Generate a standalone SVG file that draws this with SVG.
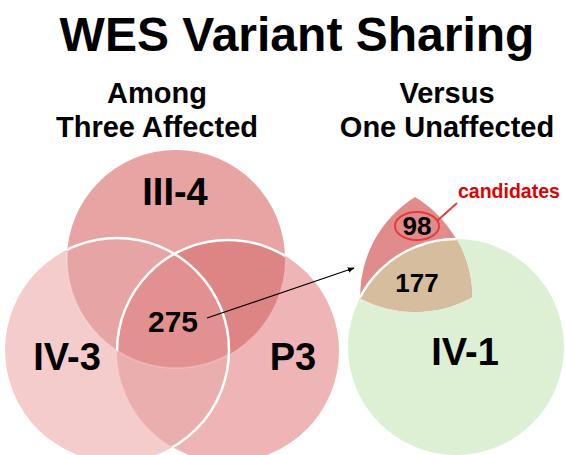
<svg xmlns="http://www.w3.org/2000/svg" width="565" height="455" viewBox="0 0 565 455">
<style>
text{font-family:"Liberation Sans",Arial,sans-serif;font-weight:bold;fill:#000;text-anchor:middle}
.title{font-size:48px}
.sub{font-size:29px}
.big{font-size:38px}
.num{font-size:30px}
.num2{font-size:26px}
.cand{font-size:19.5px;fill:#E00000;text-anchor:start}
.ws{fill:none;stroke:#fff;stroke-width:2.5}
</style>
<defs>
<clipPath id="cA"><circle cx="176" cy="259" r="109"/></clipPath>
<clipPath id="cB"><circle cx="117" cy="350" r="112"/></clipPath>
<clipPath id="cAC"><circle cx="176" cy="259" r="109"/><circle cx="228" cy="351" r="111"/></clipPath>
<clipPath id="cRed"><path d="M415,197 A118,118 0 0,0 360,298 A118,118 0 0,0 472,297 A118,118 0 0,0 415,197 Z"/></clipPath>
<clipPath id="cGreen"><circle cx="456" cy="347" r="108"/></clipPath>
<marker id="ah" viewBox="0 0 10 10" refX="9" refY="5" markerWidth="7" markerHeight="7" orient="auto" markerUnits="userSpaceOnUse"><path d="M0,1 L10,5 L0,9 Z" fill="#000"/></marker>
</defs>

<text class="title" x="297" y="51">WES Variant Sharing</text>
<text class="sub" x="157" y="103">Among</text>
<text class="sub" x="157" y="137">Three Affected</text>
<text class="sub" x="447" y="103">Versus</text>
<text class="sub" x="447" y="137">One Unaffected</text>

<g id="IV-3"><circle cx="117" cy="350" r="112" fill="#F4CCCC"/></g>
<g id="P3"><circle cx="228" cy="351" r="111" fill="#EFB4B6"/></g>
<g id="III-4"><circle cx="176" cy="259" r="109" fill="#E8A3A3"/></g>

<g id="overlaps">
<g clip-path="url(#cB)"><circle cx="228" cy="351" r="111" fill="#EBAEAE"/></g>
<g clip-path="url(#cA)"><circle cx="117" cy="350" r="112" fill="#E7A4A4"/></g>
<g clip-path="url(#cA)"><circle cx="228" cy="351" r="111" fill="#DD8585"/></g>
<g clip-path="url(#cA)"><g clip-path="url(#cB)"><circle cx="228" cy="351" r="111" fill="#E39090"/></g></g>
<g clip-path="url(#cB)"><circle cx="176" cy="259" r="109" fill="none" stroke="#fff" stroke-opacity="0.3" stroke-width="1.5"/></g>
<g clip-path="url(#cA)"><circle class="ws" cx="228" cy="351" r="111"/></g>
<g clip-path="url(#cAC)"><circle class="ws" cx="117" cy="350" r="112"/></g>
</g>

<g id="IV-1"><circle cx="456" cy="347" r="108" fill="#DDF0D4"/></g>
<g id="shared">
<path d="M415,197 A118,118 0 0,0 360,298 A118,118 0 0,0 472,297 A118,118 0 0,0 415,197 Z" fill="#E08C8C"/>
<g clip-path="url(#cGreen)"><path d="M415,197 A118,118 0 0,0 360,298 A118,118 0 0,0 472,297 A118,118 0 0,0 415,197 Z" fill="#D5BD9E"/></g>
<g clip-path="url(#cRed)"><circle class="ws" cx="456" cy="347" r="108"/></g>
<ellipse cx="417" cy="226" rx="22" ry="14" fill="none" stroke="#E03C3C" stroke-width="2"/>
</g>

<g id="connectors">
<line x1="207" y1="318" x2="354" y2="268" stroke="#000" stroke-width="1.2" marker-end="url(#ah)"/>
<line x1="437" y1="221" x2="457" y2="203" stroke="#E03C3C" stroke-width="2"/>
</g>

<text class="big" x="175" y="205">III-4</text>
<text class="big" x="67" y="370">IV-3</text>
<text class="big" x="293" y="370">P3</text>
<text class="big" x="465" y="365">IV-1</text>
<text class="num" x="173" y="332">275</text>
<text class="num2" x="417" y="235">98</text>
<text class="num2" x="417" y="292">177</text>
<text class="cand" x="458" y="198">candidates</text>
</svg>
